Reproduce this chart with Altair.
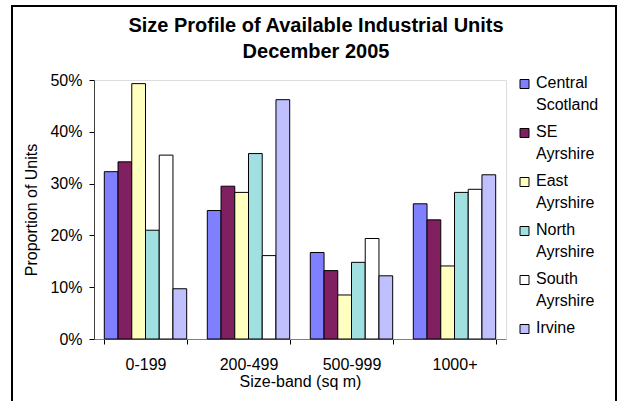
import altair as alt
import pandas as pd

title_lines = ["Size Profile of Available Industrial Units", "December 2005"]
bands = ["0-199", "200-499", "500-999", "1000+"]
series = ["Central Scotland", "SE Ayrshire", "East Ayrshire", "North Ayrshire", "South Ayrshire", "Irvine"]
colors = ["#8080FF", "#802060", "#FFFFC0", "#A0E0E0", "#FFFFFF", "#C0C0FF"]

central = [0.323, 0.248, 0.167, 0.261]
se = [0.342, 0.295, 0.132, 0.230]
east = [0.493, 0.283, 0.085, 0.141]
north = [0.210, 0.358, 0.148, 0.283]
south = [0.355, 0.161, 0.194, 0.289]
irvine = [0.097, 0.462, 0.122, 0.317]

vals = [central, se, east, north, south, irvine]
rows = []
for s, v in zip(series, vals):
    for b, x in zip(bands, v):
        rows.append({"band": b, "series": s, "value": x})
df = pd.DataFrame(rows)
leg_df = pd.DataFrame({"series": series})

FONT = "Liberation Sans"
color_scale = alt.Scale(domain=series, range=colors)

bars = alt.Chart(df).mark_bar(stroke="black", strokeWidth=1).encode(
    x=alt.X("band:N", sort=bands, title="Size-band (sq m)",
            scale=alt.Scale(paddingInner=0.2, paddingOuter=0.1),
            axis=alt.Axis(labelAngle=0, tickBand="extent", domainColor="#808080",
                          tickColor="black", tickSize=5, labelFontSize=16,
                          titleFontSize=16, titleFontWeight="normal", labelPadding=12,
                          titlePadding=1, labelFont=FONT, titleFont=FONT, labelColor="black",
                          titleColor="black")),
    xOffset=alt.XOffset("series:N", sort=series),
    y=alt.Y("value:Q", title="Proportion of Units",
            scale=alt.Scale(domain=[0, 0.5]),
            axis=alt.Axis(format=".0%", values=[0, 0.1, 0.2, 0.3, 0.4, 0.5], grid=False,
                          domainColor="#404040", tickColor="black", tickSize=5,
                          labelFontSize=16, titleFontSize=16, titleFontWeight="normal",
                          labelFont=FONT, titleFont=FONT, labelColor="black",
                          titleColor="black", labelPadding=7, titlePadding=10)),
    color=alt.Color("series:N", sort=series, scale=color_scale, legend=None),
)

leg_y = alt.Y("series:N", sort=series, axis=None,
              scale=alt.Scale(domain=series, range=[4, 249], padding=0))

leg_sym = alt.Chart(leg_df).mark_square(size=81, stroke="black", strokeWidth=1, opacity=1).encode(
    x=alt.value(430.5), y=leg_y,
    color=alt.Color("series:N", sort=series, scale=color_scale, legend=None),
)
leg_txt = alt.Chart(leg_df).transform_calculate(
    lab="split(datum.series, ' ')"
).mark_text(align="left", baseline="top", dy=-9, lineHeight=22, font=FONT,
            fontSize=16, color="black").encode(
    x=alt.value(442), y=leg_y, text="lab:N",
)

frame = alt.Chart(pd.DataFrame({"a": [0]})).mark_rect(
    fill=None, stroke="black", strokeWidth=2
).encode(x=alt.value(-82), x2=alt.value(522), y=alt.value(-74), y2=alt.value(340))

t1 = alt.Chart(pd.DataFrame({"t": [title_lines[0]]})).mark_text(
    font=FONT, fontSize=20, fontWeight="bold", color="black", align="center",
    baseline="alphabetic"
).encode(text="t:N", x=alt.value(222), y=alt.value(-48))
t2 = alt.Chart(pd.DataFrame({"t": [title_lines[1]]})).mark_text(
    font=FONT, fontSize=20, fontWeight="bold", color="black", align="center",
    baseline="alphabetic"
).encode(text="t:N", x=alt.value(222), y=alt.value(-22))

chart = alt.layer(frame, bars, leg_sym, leg_txt, t1, t2).resolve_scale(
    y="independent"
).properties(
    width=412, height=259,
    autosize=alt.AutoSizeParams(type="none"),
    padding={"left": 94, "top": 80, "right": 115, "bottom": 62},
).configure_view(strokeWidth=0).configure(background="white")

chart.save("out.html", embed_options={"renderer": "svg", "actions": False})
